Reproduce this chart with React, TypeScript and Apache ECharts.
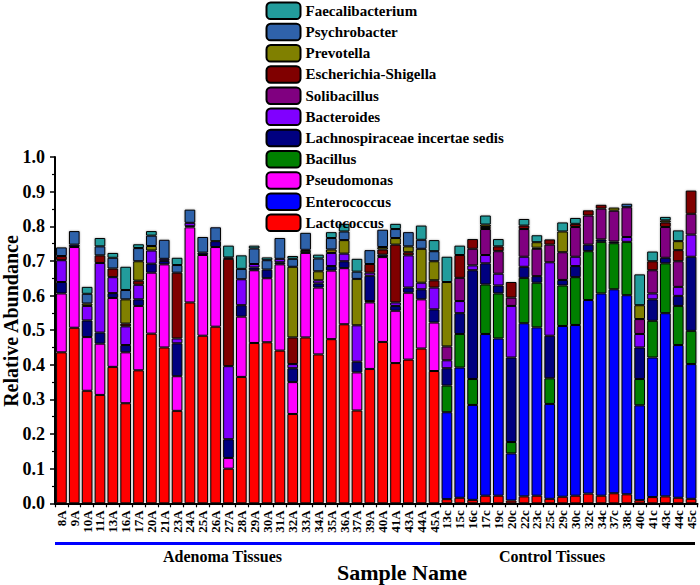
import React, { useEffect, useRef } from "react";
import * as echarts from "echarts";

const samples = [
  "8A", "9A", "10A", "11A", "13A", "16A", "17A", "20A", "21A", "23A",
  "24A", "25A", "26A", "27A", "28A", "29A", "30A", "31A", "32A", "33A",
  "34A", "35A", "36A", "37A", "39A", "40A", "41A", "43A", "44A", "45A",
  "13c", "15c", "16c", "17c", "19c", "20c", "22c", "23c", "25c", "29c",
  "30c", "32c", "34c", "37c", "38c", "40c", "41c", "43c", "44c", "45c",
];

const lactococcus = [
  0.436, 0.507, 0.325, 0.313, 0.394, 0.289, 0.384, 0.490, 0.450, 0.267,
  0.580, 0.484, 0.510, 0.100, 0.365, 0.463, 0.465, 0.441, 0.258, 0.479,
  0.430, 0.474, 0.517, 0.268, 0.388, 0.466, 0.405, 0.415, 0.447, 0.382,
  0.012, 0.016, 0.010, 0.022, 0.022, 0.008, 0.020, 0.022, 0.013, 0.019,
  0.022, 0.028, 0.022, 0.029, 0.026, 0.009, 0.018, 0.020, 0.016, 0.013,
];
const enterococcus = [
  0, 0, 0, 0, 0, 0, 0, 0, 0, 0,
  0, 0, 0, 0, 0, 0, 0, 0, 0, 0,
  0, 0, 0, 0, 0, 0, 0, 0, 0, 0,
  0.251, 0.376, 0.274, 0.467, 0.454, 0.136, 0.500, 0.486, 0.274, 0.493,
  0.493, 0.559, 0.584, 0.589, 0.575, 0.274, 0.403, 0.529, 0.441, 0.389,
];
const pseudomonas = [
  0.170, 0.233, 0.155, 0.148, 0.199, 0.147, 0.186, 0.176, 0.240, 0.100,
  0.217, 0.233, 0.230, 0.031, 0.174, 0.210, 0.185, 0.249, 0.092, 0.244,
  0.193, 0.198, 0.162, 0.110, 0.192, 0.245, 0.151, 0.193, 0.142, 0.140,
  0, 0, 0, 0, 0, 0, 0, 0, 0, 0,
  0, 0, 0, 0, 0, 0, 0, 0, 0, 0,
];
const bacillus = [
  0, 0, 0, 0, 0, 0, 0, 0, 0, 0,
  0, 0, 0, 0, 0, 0, 0, 0, 0, 0.006,
  0, 0, 0, 0, 0.004, 0, 0, 0, 0, 0,
  0.077, 0.097, 0.075, 0.143, 0.130, 0.033, 0.131, 0.129, 0.074, 0.117,
  0.138, 0.141, 0.149, 0.133, 0.154, 0.076, 0.106, 0.144, 0.113, 0.096,
];
const lachnospiraceae = [
  0.033, 0.007, 0.048, 0.032, 0.014, 0.021, 0.019, 0.026, 0.010, 0.095,
  0.003, 0.007, 0.017, 0.054, 0.033, 0.008, 0.025, 0.006, 0.040, 0.003,
  0.012, 0.013, 0.020, 0.031, 0.073, 0.007, 0.014, 0.015, 0.029, 0.038,
  0.050, 0.060, 0.314, 0.061, 0.023, 0.244, 0.032, 0.019, 0.123, 0.016,
  0.032, 0.019, 0.007, 0.005, 0, 0.091, 0.062, 0.016, 0.029, 0.214,
];
const bacteroides = [
  0.063, 0, 0.042, 0.201, 0.046, 0.054, 0.042, 0.038, 0.006, 0.014,
  0.010, 0, 0, 0.211, 0.075, 0.010, 0, 0.010, 0.012, 0,
  0.009, 0.038, 0.022, 0.105, 0.009, 0, 0.010, 0.093, 0.019, 0.063,
  0.023, 0.035, 0.014, 0.024, 0.034, 0.149, 0.029, 0, 0.212, 0,
  0.027, 0, 0, 0, 0.014, 0.039, 0.017, 0, 0.026, 0.064,
];
const solibacillus = [
  0, 0, 0, 0, 0, 0, 0, 0, 0, 0,
  0, 0, 0, 0, 0, 0, 0, 0, 0, 0,
  0, 0, 0, 0, 0, 0, 0, 0, 0, 0,
  0.040, 0.067, 0.048, 0.075, 0.065, 0.024, 0.080, 0.079, 0.051, 0.080,
  0.086, 0.084, 0.089, 0.089, 0.086, 0.043, 0.067, 0.089, 0.074, 0.060,
];
const escherichia = [
  0.012, 0, 0, 0.022, 0.025, 0.008, 0.012, 0, 0, 0.190,
  0, 0, 0, 0.310, 0, 0, 0, 0, 0.077, 0,
  0, 0, 0, 0, 0.025, 0.015, 0.167, 0.009, 0, 0.021,
  0, 0.066, 0.028, 0.006, 0.014, 0.045, 0.010, 0.003, 0.015, 0,
  0.009, 0.015, 0.011, 0, 0, 0, 0.026, 0.013, 0.032, 0.067,
];
const prevotella = [
  0, 0, 0.007, 0, 0, 0.070, 0.056, 0.013, 0, 0,
  0, 0, 0, 0, 0, 0, 0, 0, 0.204, 0,
  0.026, 0.010, 0.039, 0.134, 0, 0.007, 0.019, 0.017, 0.098, 0.055,
  0.186, 0, 0, 0.007, 0, 0, 0, 0.016, 0, 0.060,
  0, 0, 0, 0.009, 0, 0.040, 0, 0.006, 0.026, 0,
];
const psychrobacter = [
  0.025, 0.039, 0.028, 0.026, 0.031, 0.027, 0.038, 0.030, 0.055, 0.022,
  0.038, 0.045, 0.040, 0.004, 0.030, 0.045, 0.027, 0.060, 0.023, 0.049,
  0.037, 0.033, 0.025, 0.021, 0.040, 0.050, 0.026, 0.041, 0.026, 0.029,
  0, 0, 0, 0, 0, 0, 0, 0, 0, 0,
  0, 0, 0, 0, 0.010, 0, 0, 0, 0, 0,
];
const faecalibacterium = [
  0, 0, 0.020, 0.024, 0.014, 0.067, 0.011, 0.013, 0, 0.021,
  0, 0, 0, 0.034, 0.039, 0.008, 0.008, 0, 0.008, 0,
  0.011, 0.017, 0.022, 0.037, 0, 0, 0.015, 0, 0.041, 0.032,
  0.073, 0.027, 0, 0.026, 0.021, 0, 0.019, 0.020, 0, 0.026,
  0.017, 0, 0, 0, 0, 0.089, 0.028, 0.010, 0.031, 0,
];

const yTicks = [0, 0.1, 0.2, 0.3, 0.4, 0.5, 0.6, 0.7, 0.8, 0.9, 1.0];

const seriesDefs: [string, number[], string][] = [
  ["Lactococcus", lactococcus, "#FF0000"],
  ["Enterococcus", enterococcus, "#0000FF"],
  ["Pseudomonas", pseudomonas, "#FF00FF"],
  ["Bacillus", bacillus, "#008000"],
  ["Lachnospiraceae incertae sedis", lachnospiraceae, "#000080"],
  ["Bacteroides", bacteroides, "#8000FF"],
  ["Solibacillus", solibacillus, "#800080"],
  ["Escherichia-Shigella", escherichia, "#800000"],
  ["Prevotella", prevotella, "#808000"],
  ["Psychrobacter", psychrobacter, "#2F62AA"],
  ["Faecalibacterium", faecalibacterium, "#229C9C"],
];

const FONT = "'Liberation Serif', 'Times New Roman', serif";

export default function App() {
  const ref = useRef<HTMLDivElement>(null);
  useEffect(() => {
    if (!ref.current) return;
    const chart = echarts.init(ref.current, null, { renderer: "svg" });
    const option: any = {
      animation: false,
      backgroundColor: "#ffffff",
      grid: { left: 55, right: 2.5, top: 157, bottom: 81.7, containLabel: false },
      legend: {
        orient: "vertical",
        left: 260.5,
        top: -3.4,
        itemWidth: 34,
        itemHeight: 16.5,
        itemGap: 2.7,
        data: seriesDefs.map((s) => s[0]).reverse(),
        textStyle: { fontFamily: FONT, fontWeight: "bold", fontSize: 15, color: "#000" },
        selectedMode: false,
      },
      xAxis: {
        type: "category",
        data: samples,
        axisLine: { lineStyle: { color: "#000", width: 2 } },
        axisTick: { show: true, length: 4, lineStyle: { color: "#000", width: 1.2 } },
        axisLabel: {
          rotate: 90,
          interval: 0,
          margin: 7,
          fontFamily: FONT,
          fontWeight: "bold",
          fontSize: 13,
          color: "#000",
        },
      },
      yAxis: {
        type: "value",
        min: 0,
        max: 1,
        interval: 0.1,
        axisLine: { show: true, lineStyle: { color: "#000", width: 2 } },
        axisTick: { show: true, length: 5, lineStyle: { color: "#000", width: 1.5 } },
        minorTick: { show: true, splitNumber: 2, length: 3, lineStyle: { color: "#000", width: 1.2 } },
        splitLine: { show: false },
        axisLabel: {
          margin: 10,
          fontFamily: FONT,
          fontWeight: "bold",
          fontSize: 18,
          color: "#000",
          formatter: (v: number) => {
            const t = yTicks.find((k) => Math.abs(k - v) < 1e-6);
            return (t !== undefined ? t : v).toFixed(1);
          },
        },
      },
      series: seriesDefs.map(([name, vals, color]) => ({
        name,
        type: "bar",
        stack: "total",
        barCategoryGap: "17%",
        data: vals.map((v) => (v === 0 ? null : v)),
        itemStyle: {
          color,
          borderColor: "#000",
          borderWidth: 1,
          shadowColor: "rgba(0,0,0,0.35)",
          shadowBlur: 2,
        },
      })),
      graphic: [
        {
          type: "text",
          x: 11,
          y: 321,
          rotation: Math.PI / 2,
          style: {
            text: "Relative Abundance",
            fontFamily: FONT,
            fontWeight: "bold",
            fontSize: 20,
            fill: "#000",
            textAlign: "center",
            textVerticalAlign: "middle",
          },
        },
        {
          type: "line",
          shape: { x1: 55, y1: 543.5, x2: 440, y2: 543.5 },
          style: { stroke: "#0000FF", lineWidth: 3 },
        },
        {
          type: "line",
          shape: { x1: 440, y1: 543.5, x2: 695, y2: 543.5 },
          style: { stroke: "#000", lineWidth: 3 },
        },
        {
          type: "text",
          x: 222.5,
          y: 556,
          style: {
            text: "Adenoma Tissues",
            fontFamily: FONT,
            fontWeight: "bold",
            fontSize: 16,
            fill: "#000",
            textAlign: "center",
            textVerticalAlign: "middle",
          },
        },
        {
          type: "text",
          x: 552,
          y: 556.5,
          style: {
            text: "Control Tissues",
            fontFamily: FONT,
            fontWeight: "bold",
            fontSize: 16,
            fill: "#000",
            textAlign: "center",
            textVerticalAlign: "middle",
          },
        },
        {
          type: "text",
          x: 402,
          y: 572,
          style: {
            text: "Sample Name",
            fontFamily: FONT,
            fontWeight: "bold",
            fontSize: 22,
            fill: "#000",
            textAlign: "center",
            textVerticalAlign: "middle",
          },
        },
      ],
    };
    chart.setOption(option);
    return () => chart.dispose();
  }, []);
  return <div ref={ref} style={{ width: 700, height: 585, position: "absolute", left: 0, top: 0 }} />;
}
